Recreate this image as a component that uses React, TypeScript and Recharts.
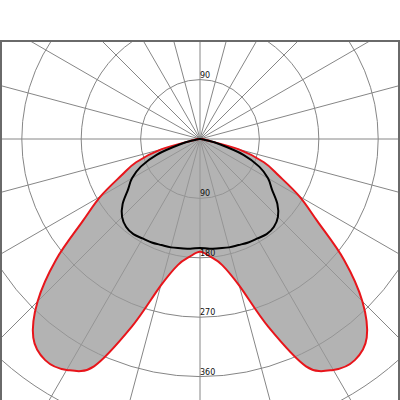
import React from 'react';
import { RadarChart, Radar, PolarGrid, PolarAngleAxis, PolarRadiusAxis } from 'recharts';

// angle from nadir (degrees), every 5 degrees
const angles = [
  0, 5, 10, 15, 20, 25, 30, 35, 40, 45, 50, 55, 60, 65, 70, 75, 80, 85,
  90, 95, 100, 105, 110, 115, 120, 125, 130, 135, 140, 145, 150, 155, 160, 165, 170, 175,
  180, 185, 190, 195, 200, 205, 210, 215, 220, 225, 230, 235, 240, 245, 250, 255, 260, 265,
  270, 275, 280, 285, 290, 295, 300, 305, 310, 315, 320, 325, 330, 335, 340, 345, 350, 355,
];

// C0-C180 plane (red, filled)
const c0c180 = [
  171, 179, 194, 230, 303, 380, 404, 409, 393, 348, 285, 217, 174, 132, 103, 61, 9, 2,
  0, 0, 0, 0, 0, 0, 0, 0, 0, 0, 0, 0, 0, 0, 0, 0, 0, 0,
  0, 0, 0, 0, 0, 0, 0, 0, 0, 0, 0, 0, 0, 0, 0, 0, 0, 0,
  0, 2, 9, 61, 103, 132, 174, 217, 285, 348, 393, 409, 404, 380, 303, 230, 194, 179,
];

// C90-C270 plane (black)
const c90c270 = [
  165, 167, 168, 170, 171, 173, 174, 176, 174, 167, 153, 133, 119, 99, 70, 31, 8, 2,
  0, 0, 0, 0, 0, 0, 0, 0, 0, 0, 0, 0, 0, 0, 0, 0, 0, 0,
  0, 0, 0, 0, 0, 0, 0, 0, 0, 0, 0, 0, 0, 0, 0, 0, 0, 0,
  0, 2, 8, 31, 70, 99, 119, 133, 153, 167, 174, 176, 174, 173, 171, 170, 168, 167,
];

const gridValues = [90, 180, 270, 360, 450];
const labelValues = [90, 180, 270, 360];
const upperLabelValues = [90];
const spokeAngles = [0, 15, 30, 45, 60, 75, 90, 105, 120, 135, 150, 165, 180, 195, 210, 225, 240, 255, 270, 285, 300, 315, 330, 345];
const radiusDomain = [0, 540];

const data = angles.map((a, i) => ({ angle: a, c0: c0c180[i], c90: c90c270[i] }));

const labelStyle = { fontSize: 8, fontFamily: 'DejaVu Sans', fill: '#111' };

const renderTick = (props: any) => {
  const { x, y, payload, cy } = props;
  const v = payload.value;
  if (!labelValues.includes(v)) return <g />;
  const showUpper = upperLabelValues.includes(v) && typeof cy === 'number';
  return (
    <g>
      <text x={x} y={y - 2} textAnchor="start" {...labelStyle}>
        {v}
      </text>
      {showUpper ? (
        <text x={x} y={2 * cy - y - 2} textAnchor="start" {...labelStyle}>
          {v}
        </text>
      ) : null}
    </g>
  );
};

// smooth closed curve (Catmull-Rom) through the points computed by Radar
const smoothShape = (stroke: string, strokeWidth: number, fill: string, fillOpacity: number) => (props: any) => {
  const pts = (props.points || []) as { x: number; y: number }[];
  const n = pts.length;
  if (!n) return <g />;
  let d = `M${pts[0].x},${pts[0].y}`;
  for (let i = 0; i < n; i++) {
    const p0 = pts[(i - 1 + n) % n];
    const p1 = pts[i];
    const p2 = pts[(i + 1) % n];
    const p3 = pts[(i + 2) % n];
    const c1x = p1.x + (p2.x - p0.x) / 6;
    const c1y = p1.y + (p2.y - p0.y) / 6;
    const c2x = p2.x - (p3.x - p1.x) / 6;
    const c2y = p2.y - (p3.y - p1.y) / 6;
    d += ` C${c1x},${c1y} ${c2x},${c2y} ${p2.x},${p2.y}`;
  }
  d += ' Z';
  return (
    <path
      d={d}
      stroke={stroke}
      strokeWidth={strokeWidth}
      fill={fill}
      fillOpacity={fillOpacity}
      strokeLinejoin="round"
    />
  );
};

export default function App() {
  return (
    <div>
      <div style={{ position: 'absolute', left: 0, top: 40, width: 400, height: 360 }}>
        <RadarChart
          width={400}
          height={360}
          data={data}
          cx={200}
          cy={99}
          outerRadius={356.4}
          startAngle={-90}
          endAngle={-450}
          margin={{ top: 0, right: 0, bottom: 0, left: 0 }}
        >
          <PolarGrid gridType="circle" polarAngles={spokeAngles} stroke="#868686" strokeWidth={1} />
          <PolarAngleAxis dataKey="angle" tick={false} axisLine={false} tickLine={false} />
          <Radar
            dataKey="c0"
            stroke="#e8151b"
            fill="#999999"
            isAnimationActive={false}
            dot={false}
            shape={smoothShape('#e8151b', 2, '#9a9a9a', 0.75)}
          />
          <Radar
            dataKey="c90"
            stroke="#000"
            fill="none"
            isAnimationActive={false}
            dot={false}
            shape={smoothShape('#000000', 2, 'none', 0)}
          />
          <PolarRadiusAxis
            angle={-90}
            type="number"
            domain={radiusDomain}
            ticks={gridValues}
            axisLine={false}
            tickLine={false}
            tick={renderTick}
          />
        </RadarChart>
      </div>
      <div
        style={{
          position: 'absolute',
          left: 0,
          top: 40,
          width: 400,
          height: 360,
          boxSizing: 'border-box',
          borderTop: '2px solid #6a6a6a',
          borderLeft: '2px solid #6a6a6a',
          borderRight: '2px solid #6a6a6a',
          pointerEvents: 'none',
        }}
      />
    </div>
  );
}
